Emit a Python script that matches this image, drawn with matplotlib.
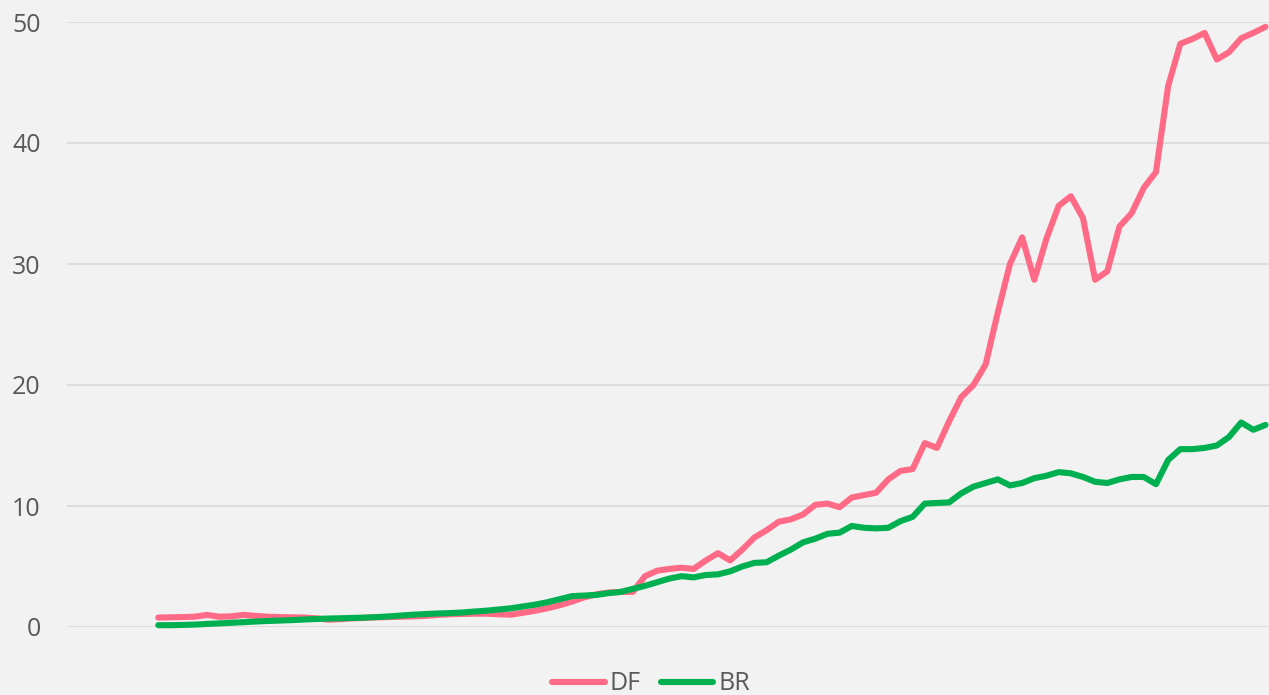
import numpy as np
import matplotlib
matplotlib.use("Agg")
import matplotlib.pyplot as plt

# Series values, one point per category
df_values = [
    0.78, 0.80, 0.82, 0.85, 1.00, 0.85, 0.88, 1.00, 0.92, 0.85,
    0.82, 0.80, 0.78, 0.72, 0.60, 0.65, 0.72, 0.75, 0.80, 0.82,
    0.85, 0.88, 0.92, 1.00, 1.05, 1.08, 1.10, 1.10, 1.05, 1.02,
    1.18, 1.35, 1.55, 1.80, 2.10, 2.45, 2.70, 2.85, 2.90, 2.90,
    4.20, 4.65, 4.80, 4.90, 4.80, 5.50, 6.10, 5.50, 6.40, 7.40,
    8.00, 8.70, 8.90, 9.30, 10.10, 10.20, 9.90, 10.70, 10.90, 11.10,
    12.20, 12.90, 13.05, 15.20, 14.80, 17.00, 19.00, 20.00, 21.70, 26.00,
    30.00, 32.20, 28.70, 32.10, 34.80, 35.60, 33.80, 28.70, 29.40, 33.10,
    34.20, 36.30, 37.60, 44.70, 48.20, 48.60, 49.10, 46.90, 47.50, 48.65,
    49.10, 49.60,
]
br_values = [
    0.15, 0.15, 0.17, 0.20, 0.25, 0.30, 0.35, 0.40, 0.45, 0.50,
    0.53, 0.57, 0.62, 0.66, 0.70, 0.72, 0.75, 0.78, 0.82, 0.88,
    0.95, 1.02, 1.07, 1.12, 1.15, 1.20, 1.28, 1.35, 1.45, 1.55,
    1.70, 1.85, 2.05, 2.30, 2.55, 2.60, 2.65, 2.80, 2.90, 3.15,
    3.40, 3.70, 4.00, 4.20, 4.10, 4.30, 4.35, 4.60, 5.00, 5.30,
    5.35, 5.90, 6.40, 7.00, 7.30, 7.70, 7.80, 8.35, 8.20, 8.15,
    8.20, 8.75, 9.10, 10.20, 10.25, 10.30, 11.05, 11.60, 11.90, 12.20,
    11.70, 11.90, 12.30, 12.50, 12.80, 12.70, 12.40, 12.00, 11.90, 12.20,
    12.40, 12.40, 11.80, 13.80, 14.70, 14.70, 14.80, 15.00, 15.70, 16.90,
    16.30, 16.70,
]
series_names = ["DF", "BR"]
y_ticks = [0, 10, 20, 30, 40, 50]

BG = "#f2f2f2"
GRID = "#d9d9d9"
TEXT = "#595959"
DF_COLOR = "#ff6b87"
BR_COLOR = "#00b050"

plt.rcParams["font.family"] = ["Open Sans", "DejaVu Sans"]

fig = plt.figure(figsize=(12.69, 6.95), dpi=100, facecolor=BG)
ax = fig.add_axes([67 / 1269, 68 / 695, 1 - 67 / 1269, 605 / 695])
ax.set_facecolor(BG)

x = np.arange(len(df_values))
ax.plot(x, df_values, color=DF_COLOR, lw=4.4, label=series_names[0],
        solid_joinstyle="round", solid_capstyle="round", clip_on=False, zorder=3)
ax.plot(x, br_values, color=BR_COLOR, lw=4.4, label=series_names[1],
        solid_joinstyle="round", solid_capstyle="round", clip_on=False, zorder=4)

ax.set_xlim(-7.5, len(df_values) - 1 + 0.29)
ax.set_ylim(0, 50)
ax.set_yticks(y_ticks)
ax.set_xticks([])
ax.yaxis.grid(True, color=GRID, lw=1.2)
ax.set_axisbelow(True)
for s in ax.spines.values():
    s.set_visible(False)
ax.tick_params(axis="y", length=0, pad=19, labelsize=18, labelcolor=TEXT)

leg = fig.legend(loc="center", bbox_to_anchor=(651 / 1269, 11 / 695), ncol=2,
                 frameon=False, fontsize=18, labelcolor=TEXT,
                 handlelength=2.1, handletextpad=0.2, columnspacing=0.8)

fig.savefig("out.png", dpi=100, facecolor=BG)
